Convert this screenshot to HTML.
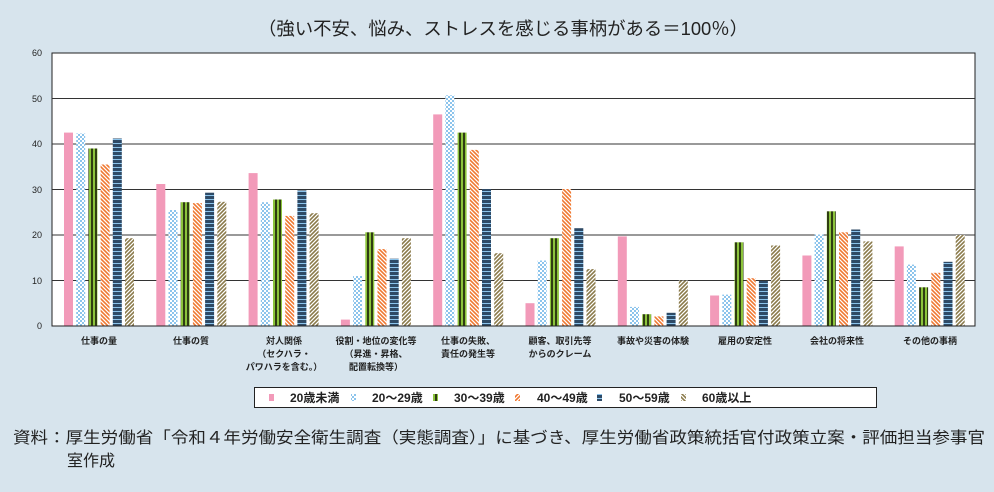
<!DOCTYPE html>
<html><head><meta charset="utf-8"><style>
body{margin:0;width:994px;height:492px;background:#d7e4ed;font-family:"Liberation Sans","Noto Sans CJK JP",sans-serif;overflow:hidden}
</style></head><body>
<svg width="994" height="492" xmlns="http://www.w3.org/2000/svg" style="position:absolute;left:0;top:0">
<defs>
<pattern id="p2" width="4" height="4" patternUnits="userSpaceOnUse"><rect width="4" height="4" fill="#fff"/><rect width="2" height="2" fill="#8cc4ec"/><rect x="2" y="2" width="2" height="2" fill="#8cc4ec"/></pattern>
<pattern id="p3" width="4" height="4" patternUnits="userSpaceOnUse"><rect width="4" height="4" fill="#2f3d12"/><rect x="1" width="2" height="4" fill="#8cc43c"/></pattern>
<pattern id="p4" width="4" height="4" patternUnits="userSpaceOnUse"><rect width="4" height="4" fill="#fff"/><path d="M0 4L4 0M-1 1L1 -1M3 5L5 3" stroke="#f07830" stroke-width="1.6"/></pattern>
<pattern id="p5" width="4" height="4" patternUnits="userSpaceOnUse"><rect width="4" height="4" fill="#2e4a66"/><rect y="2" width="4" height="1" fill="#8cc4ec"/></pattern>
<pattern id="p6" width="4" height="4" patternUnits="userSpaceOnUse"><rect width="4" height="4" fill="#fff"/><path d="M0 0L4 4M3 -1L5 1M-1 3L1 5" stroke="#8a7a4a" stroke-width="1.6"/></pattern>
</defs>
<text x="258" y="35" font-size="18" fill="#222" textLength="490" lengthAdjust="spacingAndGlyphs">（強い不安、悩み、ストレスを感じる事柄がある＝100％）</text>
<rect x="52" y="53" width="923" height="273" fill="#fff" stroke="#222"/>
<g stroke="#333" stroke-width="1">
<line x1="52" y1="98.5" x2="975" y2="98.5"/><line x1="52" y1="144" x2="975" y2="144"/><line x1="52" y1="189.5" x2="975" y2="189.5"/><line x1="52" y1="235" x2="975" y2="235"/><line x1="52" y1="280.5" x2="975" y2="280.5"/>
</g>
<g font-size="9" fill="#222" text-anchor="end">
<text x="42" y="56">60</text><text x="42" y="102">50</text><text x="42" y="147">40</text><text x="42" y="193">30</text><text x="42" y="238">20</text><text x="42" y="284">10</text><text x="42" y="329">0</text>
</g>
<g transform="translate(0,326) scale(1,-1)">
<g fill="#f29ab9">
<rect x="64" width="9" height="193.4"/><rect x="156.3" width="9" height="142"/><rect x="248.6" width="9" height="152.9"/><rect x="340.9" width="9" height="6.4"/><rect x="433.2" width="9" height="211.6"/><rect x="525.5" width="9" height="22.8"/><rect x="617.8" width="9" height="89.6"/><rect x="710.1" width="9" height="30.5"/><rect x="802.4" width="9" height="70.5"/><rect x="894.7" width="9" height="79.6"/>
</g>
<g fill="url(#p2)">
<rect x="76.2" width="9" height="192.5"/><rect x="168.5" width="9" height="116"/><rect x="260.8" width="9" height="123.8"/><rect x="353.1" width="9" height="50"/><rect x="445.4" width="9" height="230.7"/><rect x="537.7" width="9" height="65.5"/><rect x="630" width="9" height="19.1"/><rect x="722.3" width="9" height="31.4"/><rect x="814.6" width="9" height="91.5"/><rect x="906.9" width="9" height="61.4"/>
</g>
<g fill="url(#p3)">
<rect x="88.4" width="9" height="177.5"/><rect x="180.7" width="9" height="123.8"/><rect x="273" width="9" height="126.5"/><rect x="365.3" width="9" height="93.7"/><rect x="457.6" width="9" height="193.4"/><rect x="549.9" width="9" height="87.8"/><rect x="642.2" width="9" height="11.8"/><rect x="734.5" width="9" height="83.7"/><rect x="826.8" width="9" height="114.7"/><rect x="919.1" width="9" height="38.7"/>
</g>
<g fill="url(#p4)">
<rect x="100.6" width="9" height="161.5"/><rect x="192.9" width="9" height="122.9"/><rect x="285.2" width="9" height="110.1"/><rect x="377.5" width="9" height="76.9"/><rect x="469.8" width="9" height="176.1"/><rect x="562.1" width="9" height="137"/><rect x="654.4" width="9" height="9.6"/><rect x="746.7" width="9" height="47.8"/><rect x="839" width="9" height="93.7"/><rect x="931.3" width="9" height="53.2"/>
</g>
<g fill="url(#p5)">
<rect x="112.8" width="9" height="187.5"/><rect x="205.1" width="9" height="133.3"/><rect x="297.4" width="9" height="135.6"/><rect x="389.7" width="9" height="67.3"/><rect x="482" width="9" height="137"/><rect x="574.3" width="9" height="97.8"/><rect x="666.6" width="9" height="13.2"/><rect x="758.9" width="9" height="45"/><rect x="851.2" width="9" height="96.5"/><rect x="943.5" width="9" height="64.2"/>
</g>
<g fill="url(#p6)">
<rect x="125" width="9" height="87.8"/><rect x="217.3" width="9" height="124.2"/><rect x="309.6" width="9" height="112.8"/><rect x="401.9" width="9" height="87.8"/><rect x="494.2" width="9" height="72.8"/><rect x="586.5" width="9" height="56.9"/><rect x="678.8" width="9" height="45.5"/><rect x="771.1" width="9" height="80.5"/><rect x="863.4" width="9" height="84.6"/><rect x="955.7" width="9" height="91"/>
</g>
</g>
<line x1="52" y1="326" x2="975" y2="326" stroke="#222"/>
<g font-size="9" fill="#222" text-anchor="middle" font-weight="bold">
<text x="99" y="344">仕事の量</text>
<text x="191" y="344">仕事の質</text>
<text x="284" y="344">対人関係</text><text x="284" y="357">（セクハラ・</text><text x="284" y="370">パワハラを含む。）</text>
<text x="376" y="344">役割・地位の変化等</text><text x="376" y="357">（昇進・昇格、</text><text x="376" y="370">配置転換等）</text>
<text x="468" y="344">仕事の失敗、</text><text x="468" y="357">責任の発生等</text>
<text x="560" y="344">顧客、取引先等</text><text x="560" y="357">からのクレーム</text>
<text x="653" y="344">事故や災害の体験</text>
<text x="745" y="344">雇用の安定性</text>
<text x="837" y="344">会社の将来性</text>
<text x="930" y="344">その他の事柄</text>
</g>
<rect x="254.5" y="387.5" width="622" height="20" fill="#fff" stroke="#222"/>
<g font-size="12" fill="#222" font-weight="bold">
<rect x="269" y="394" width="5" height="7" fill="#f29ab9"/><text x="290" y="402">20歳未満</text>
<rect x="351" y="394" width="5" height="7" fill="url(#p2)"/><text x="372" y="402">20～29歳</text>
<rect x="433" y="394" width="5" height="7" fill="url(#p3)"/><text x="454" y="402">30～39歳</text>
<rect x="515" y="394" width="5" height="7" fill="url(#p4)"/><text x="537" y="402">40～49歳</text>
<rect x="597" y="394" width="5" height="7" fill="url(#p5)"/><text x="619" y="402">50～59歳</text>
<rect x="681" y="394" width="5" height="7" fill="url(#p6)"/><text x="702" y="402">60歳以上</text>
</g>
<g font-size="16" fill="#222">
<text x="13" y="443" textLength="972" lengthAdjust="spacingAndGlyphs">資料：厚生労働省「令和４年労働安全衛生調査（実態調査）」に基づき、厚生労働省政策統括官付政策立案・評価担当参事官</text>
<text x="67" y="466">室作成</text>
</g>
</svg>
</body></html>
